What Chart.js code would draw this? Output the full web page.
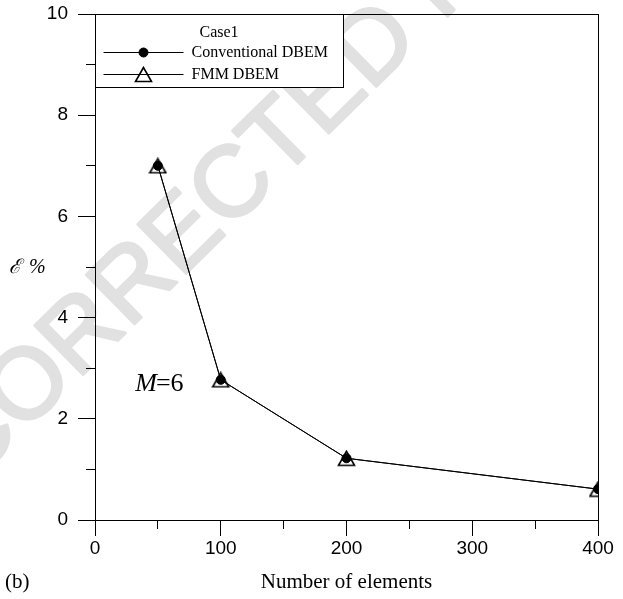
<!DOCTYPE html>
<html>
<head>
<meta charset="utf-8">
<script src="https://cdn.jsdelivr.net/npm/chart.js@4/dist/chart.umd.min.js"></script>
<style>
  html, body { margin: 0; padding: 0; background: #fff; }
  canvas { display: block; }
</style>
</head>
<body>
<canvas id="errChart" width="623" height="599"></canvas>
<script>
// Relative error against mesh size, M = 6
const elements = [50, 100, 200, 400];
const conventionalErr = [7.0, 2.77, 1.22, 0.61];
const fmmErr = [7.0, 2.77, 1.22, 0.61];
const xTickLabels = [0, 100, 200, 300, 400];
const yTickLabels = [0, 2, 4, 6, 8, 10];
const seriesNames = ['Conventional DBEM', 'FMM DBEM'];
const caseName = 'Case1';

const SANS = "'Liberation Sans', Arial, sans-serif";
const SERIF = "'Liberation Serif', 'Times New Roman', serif";

function toPoints(ys) {
    return elements.map((x, i) => ({ x: x, y: ys[i] }));
}

// open triangle, centred on its bounding box
function makeTriangle() {
    const c = document.createElement('canvas');
    c.width = 19;
    c.height = 17;
    const g = c.getContext('2d');
    g.strokeStyle = '#000';
    g.lineWidth = 1.6;
    g.lineJoin = 'miter';
    g.beginPath();
    g.moveTo(9.5, 1.5);
    g.lineTo(1.5, 15.5);
    g.lineTo(17.5, 15.5);
    g.closePath();
    g.stroke();
    return c;
}
const triangleMarker = makeTriangle();

// Light diagonal proof stamp behind everything
const watermark = {
    id: 'watermark',
    beforeDraw(chart) {
        const ctx = chart.ctx;
        ctx.save();
        ctx.translate(262, 160);
        ctx.rotate(-44.5 * Math.PI / 180);
        ctx.font = '100px ' + SANS;
        ctx.fillStyle = '#e1e1e1';
        ctx.strokeStyle = '#e1e1e1';
        ctx.lineWidth = 3;
        ctx.lineJoin = 'round';
        ctx.textAlign = 'center';
        ctx.textBaseline = 'middle';
        ctx.fillText('UNCORRECTED PROOF', 0, 0);
        ctx.strokeText('UNCORRECTED PROOF', 0, 0);
        ctx.restore();
    }
};

// Box round the plot area
const frame = {
    id: 'frame',
    afterDraw(chart) {
        const a = chart.chartArea;
        const ctx = chart.ctx;
        ctx.save();
        ctx.strokeStyle = '#000';
        ctx.lineWidth = 1;
        ctx.strokeRect(Math.round(a.left) + 0.5, Math.round(a.top) + 0.5,
            Math.round(a.right - a.left), Math.round(a.bottom - a.top));
        ctx.restore();
    }
};

// Legend box, axis symbol, panel tag and the M=6 note
const notes = {
    id: 'notes',
    afterDraw(chart) {
        const ctx = chart.ctx;
        const a = chart.chartArea;
        const xs = chart.scales.x, ys = chart.scales.y;
        ctx.save();

        // legend
        const bx = Math.round(a.left) + 0.5, by = Math.round(a.top) + 0.5;
        ctx.strokeStyle = '#000';
        ctx.lineWidth = 1;
        ctx.fillStyle = '#fff';
        ctx.fillRect(bx, by, 248, 73);
        ctx.strokeRect(bx, by, 248, 73);
        ctx.fillStyle = '#000';
        ctx.font = '16px ' + SERIF;
        ctx.textBaseline = 'middle';
        ctx.textAlign = 'left';
        ctx.fillText(caseName, bx + 104, by + 18);
        const rows = [by + 37, by + 59];
        chart.data.datasets.forEach((ds, i) => {
            const y = Math.round(rows[i]) + 0.5;
            ctx.strokeStyle = '#000';
            ctx.lineWidth = 1;
            ctx.beginPath();
            ctx.moveTo(bx + 8, y);
            ctx.lineTo(bx + 88, y);
            ctx.stroke();
            ctx.fillStyle = ds.pointBackgroundColor;
            ctx.strokeStyle = ds.pointBorderColor;
            ctx.lineWidth = ds.pointBorderWidth;
            Chart.helpers.drawPoint(ctx, {
                pointStyle: ds.pointStyle,
                radius: ds.pointRadius,
                borderWidth: ds.pointBorderWidth,
                rotation: 0
            }, bx + 48, y);
            ctx.fillStyle = '#000';
            ctx.font = '16px ' + SERIF;
            ctx.fillText(ds.label, bx + 96, y);
        });

        // y axis symbol
        ctx.font = 'italic 20px ' + SERIF;
        ctx.textBaseline = 'middle';
        const ey = ys.getPixelForValue(4.98);
        ctx.fillText('\u2130', 9, ey);
        ctx.fillText('%', 29, ey);

        // panel tag
        ctx.font = '21px ' + SERIF;
        ctx.fillText('(b)', 5, 582);

        // M=6
        const mx = xs.getPixelForValue(32), my = ys.getPixelForValue(2.55);
        ctx.textBaseline = 'alphabetic';
        ctx.font = 'italic 26px ' + SERIF;
        ctx.fillText('M', mx, my);
        const w = ctx.measureText('M').width;
        ctx.font = '26px ' + SERIF;
        ctx.fillText('=6', mx + w - 1, my);

        ctx.restore();
    }
};

new Chart(document.getElementById('errChart'), {
    type: 'line',
    data: {
        datasets: [{
            label: seriesNames[0],
            data: toPoints(conventionalErr),
            borderColor: '#000',
            borderWidth: 1,
            pointStyle: 'circle',
            pointRadius: 4.5,
            pointBackgroundColor: '#000',
            pointBorderColor: '#000',
            pointBorderWidth: 1
        }, {
            label: seriesNames[1],
            data: toPoints(fmmErr),
            borderColor: '#000',
            borderWidth: 1,
            pointStyle: triangleMarker,
            pointRadius: 9,
            pointBackgroundColor: 'rgba(0,0,0,0)',
            pointBorderColor: '#000',
            pointBorderWidth: 1.6
        }]
    },
    options: {
        responsive: false,
        animation: false,
        layout: { padding: { top: 14, right: 25, left: 0, bottom: 0 } },
        plugins: {
            legend: { display: false },
            tooltip: { enabled: false }
        },
        scales: {
            x: {
                type: 'linear',
                min: 0,
                max: 400,
                afterFit(scale) {
                    scale.height = 79;
                    scale.paddingLeft = 0;
                    scale.paddingRight = 0;
                },
                border: { color: '#000', width: 1 },
                grid: {
                    drawOnChartArea: false,
                    tickLength: 16,
                    tickColor: '#000',
                    tickWidth: 1,
                    tickBorderDash: ctx => xTickLabels.includes(ctx.tick.value) ? [] : [8, 100]
                },
                ticks: {
                    stepSize: 50,
                    padding: 1,
                    color: '#000',
                    font: { family: SANS, size: 19 },
                    maxRotation: 0,
                    autoSkip: false,
                    callback: v => xTickLabels.includes(v) ? String(v) : ''
                },
                title: {
                    display: true,
                    text: 'Number of elements',
                    color: '#000',
                    font: { family: SERIF, size: 21 },
                    padding: { top: 0, bottom: 4 }
                }
            },
            y: {
                type: 'linear',
                min: 0,
                max: 10,
                afterFit(scale) {
                    scale.width = 95;
                    scale.paddingTop = 0;
                    scale.paddingBottom = 0;
                },
                border: { color: '#000', width: 1 },
                grid: {
                    drawOnChartArea: false,
                    tickLength: 17,
                    tickColor: '#000',
                    tickWidth: 1,
                    tickBorderDash: ctx => yTickLabels.includes(ctx.tick.value) ? [] : [0, 8, 9, 100]
                },
                ticks: {
                    stepSize: 1,
                    padding: 10,
                    color: '#000',
                    font: { family: SANS, size: 19 },
                    autoSkip: false,
                    callback: v => yTickLabels.includes(v) ? String(v) : ''
                }
            }
        }
    },
    plugins: [watermark, frame, notes]
});
</script>
</body>
</html>
